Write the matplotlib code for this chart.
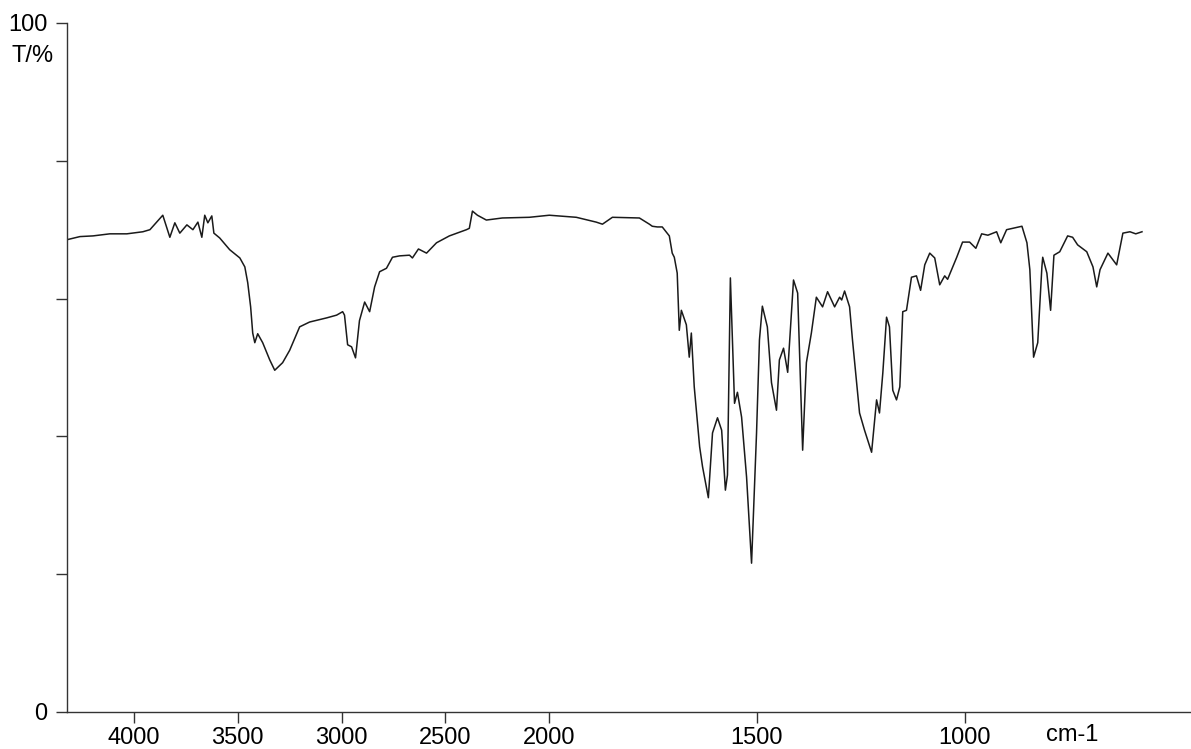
import numpy as np
import matplotlib.pyplot as plt
from matplotlib.transforms import blended_transform_factory

plt.rcParams['font.family'] = ['Liberation Sans', 'DejaVu Sans']

# IR spectrum: wavenumber (cm-1) and transmittance (%)
wavenumber = [4315, 4260, 4197, 4116, 4034, 3957, 3923, 3861, 3827, 3803,
              3779, 3745, 3716, 3692, 3673, 3659, 3644, 3625, 3615, 3587,
              3539, 3490, 3466, 3452, 3438, 3428, 3418, 3404, 3380, 3346,
              3322, 3284, 3250, 3202, 3154, 3072, 3024, 2995, 2986, 2971,
              2952, 2933, 2914, 2889, 2865, 2841, 2817, 2784, 2755, 2721,
              2673, 2659, 2630, 2591, 2543, 2481, 2399, 2385, 2370, 2346,
              2303, 2226, 2096, 2000, 1935, 1887, 1872, 1848, 1783, 1759,
              1752, 1740, 1728, 1711, 1704, 1699, 1694, 1692, 1687, 1682,
              1670, 1663, 1658, 1651, 1638, 1631, 1617, 1607, 1595, 1585,
              1576, 1571, 1564, 1559, 1554, 1547, 1537, 1525, 1513, 1501,
              1494, 1487, 1475, 1465, 1453, 1446, 1436, 1426, 1412, 1402,
              1390, 1381, 1369, 1357, 1342, 1330, 1313, 1301, 1296, 1289,
              1277, 1270, 1253, 1241, 1224, 1212, 1205, 1197, 1188, 1181,
              1173, 1164, 1156, 1149, 1140, 1128, 1116, 1106, 1096, 1084,
              1072, 1060, 1048, 1041, 1019, 1005, 988, 973, 959, 944,
              923, 913, 899, 862, 850, 843, 834, 824, 814, 812,
              802, 793, 785, 771, 752, 740, 728, 706, 691, 682,
              674, 655, 634, 619, 602, 588, 573]
transmittance = [68.6, 69.0, 69.1, 69.4, 69.4, 69.7, 70.0, 72.1, 68.9, 71.0,
                 69.5, 70.7, 70.0, 71.1, 68.9, 72.1, 71.0, 72.0, 69.5, 68.8,
                 67.1, 65.9, 64.6, 62.3, 58.8, 55.0, 53.6, 54.9, 53.6, 51.1,
                 49.6, 50.7, 52.5, 55.9, 56.6, 57.2, 57.6, 58.1, 57.6, 53.3,
                 53.0, 51.4, 56.8, 59.5, 58.1, 61.7, 63.9, 64.4, 66.0, 66.2,
                 66.3, 65.9, 67.2, 66.6, 68.1, 69.1, 70.0, 70.2, 72.7, 72.1,
                 71.4, 71.7, 71.8, 72.1, 71.8, 71.1, 70.8, 71.8, 71.7, 70.8,
                 70.5, 70.4, 70.4, 69.1, 66.6, 66.0, 64.4, 63.7, 55.4, 58.3,
                 56.2, 51.5, 55.0, 47.2, 38.5, 35.6, 31.1, 40.5, 42.7, 40.9,
                 32.2, 34.4, 63.0, 54.0, 44.8, 46.4, 42.8, 34.1, 21.6, 40.5,
                 54.0, 58.9, 55.9, 47.8, 43.8, 51.1, 52.8, 49.3, 62.7, 60.8,
                 38.0, 50.7, 55.0, 60.2, 58.8, 61.0, 58.8, 60.2, 59.8, 61.1,
                 58.8, 54.0, 43.4, 40.9, 37.7, 45.3, 43.4, 49.2, 57.3, 55.9,
                 46.7, 45.3, 47.2, 58.1, 58.3, 63.1, 63.3, 61.2, 64.9, 66.6,
                 65.9, 62.0, 63.3, 62.8, 66.0, 68.2, 68.2, 67.3, 69.4, 69.2,
                 69.7, 68.1, 70.0, 70.5, 68.1, 64.2, 51.5, 53.6, 64.6, 66.0,
                 63.7, 58.3, 66.3, 66.8, 69.1, 68.9, 67.8, 66.8, 64.6, 61.7,
                 64.2, 66.6, 64.9, 69.5, 69.7, 69.4, 69.7]

x_ticks = [4000, 3500, 3000, 2500, 2000, 1500, 1000]
y_ticks = [0, 20, 40, 60, 80, 100]
y_tick_labels = ['0', '', '', '', '', '100']


# spectrometer scale: above 2000 cm-1 is compressed by half
def forward(w):
    w = np.asarray(w, dtype=float)
    return np.where(w > 2000, (w - 2000) / 2.0, w - 2000)


def inverse(u):
    u = np.asarray(u, dtype=float)
    return np.where(u > 0, 2000 + 2.0 * u, 2000 + u)


fig = plt.figure(figsize=(11.91, 7.49), dpi=100)
ax = fig.add_axes([0.0563, 0.0494, 0.9437, 0.9199])

ax.plot(wavenumber, transmittance, color='#1a1a1a', lw=1.1)

ax.set_xscale('function', functions=(forward, inverse))
ax.set_xlim(4322, 455)
ax.set_ylim(0, 100)

ax.set_xticks(x_ticks)
ax.set_xticklabels([str(t) for t in x_ticks])
ax.set_yticks(y_ticks)
ax.set_yticklabels(y_tick_labels)
ax.minorticks_off()

for side in ['top', 'right']:
    ax.spines[side].set_visible(False)
for side in ['left', 'bottom']:
    ax.spines[side].set_color('#333333')
    ax.spines[side].set_linewidth(1.0)

ax.tick_params(axis='both', direction='out', length=8, width=1.0,
               color='#333333', labelsize=17)
ax.tick_params(axis='x', pad=3)
ax.tick_params(axis='y', pad=6)

trans = blended_transform_factory(ax.transData, ax.transAxes)
ax.text(740, -0.018, 'cm-1', transform=trans, ha='center', va='top',
        fontsize=17)
fig.text(0.027, 0.925, 'T/%', ha='center', va='center', fontsize=17)

fig.savefig('out.png', dpi=100)
